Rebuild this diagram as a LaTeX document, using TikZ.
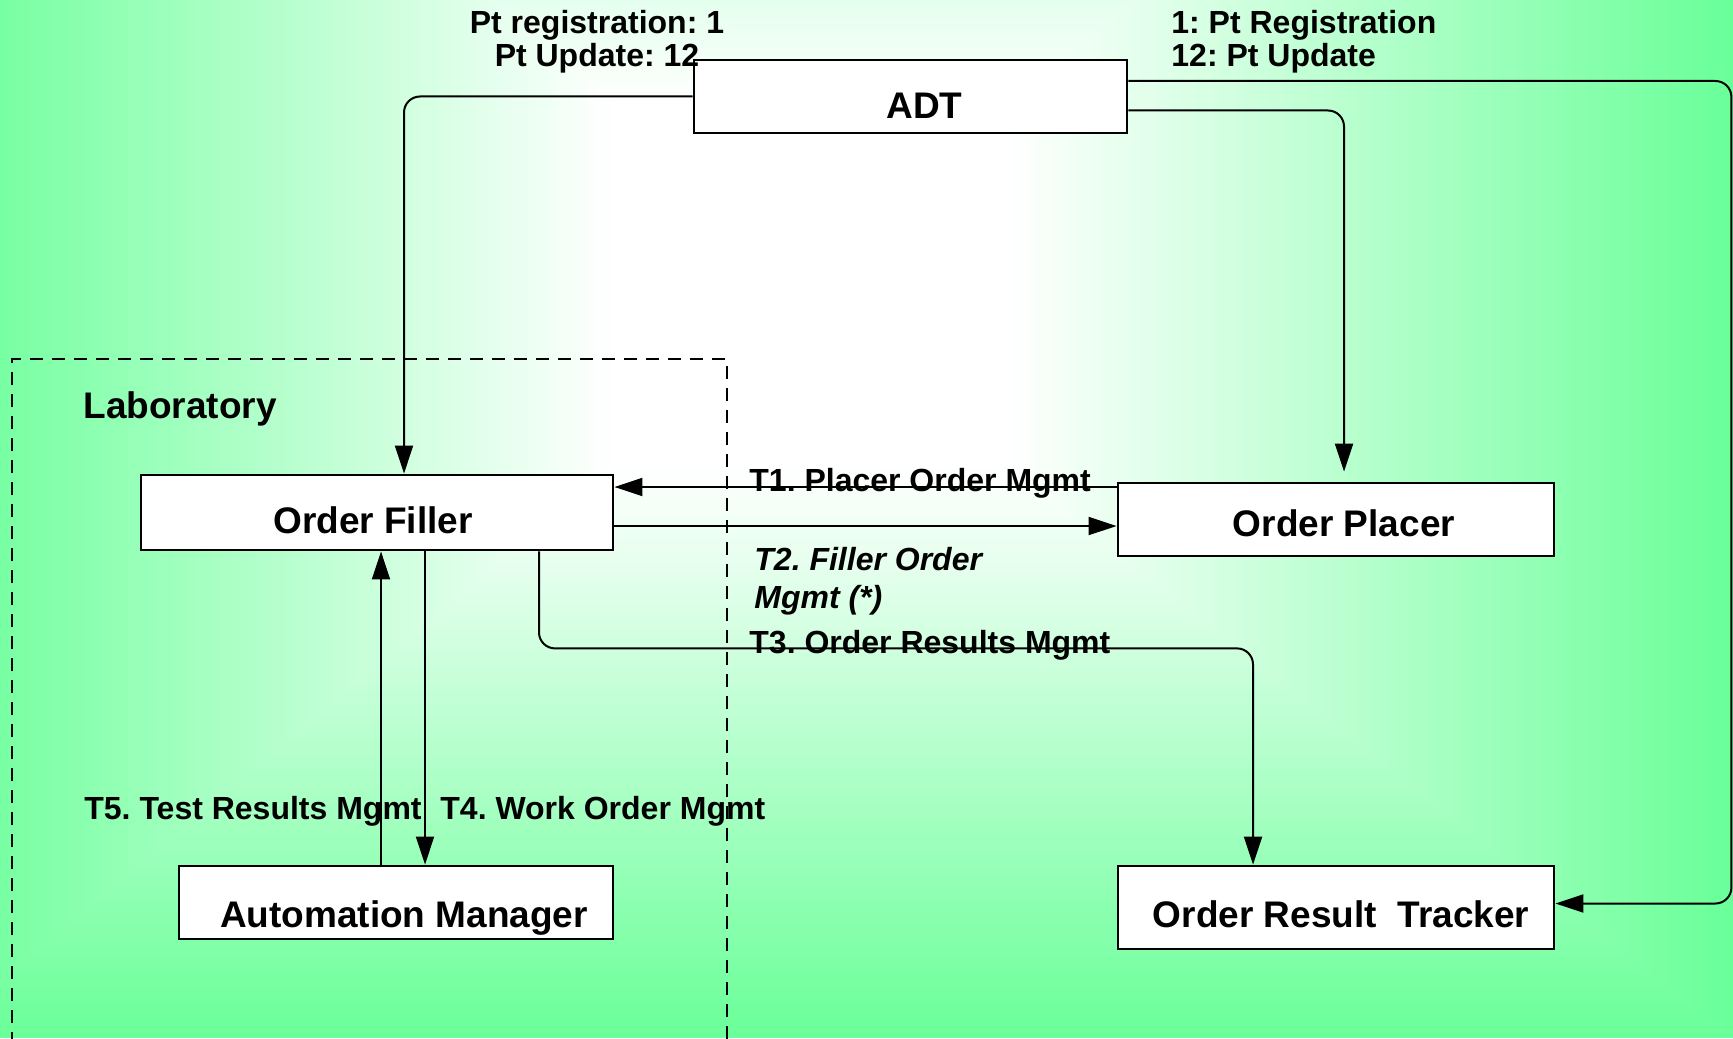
\documentclass[tikz,border=0pt]{standalone}
\usepackage{fontspec}
\setmainfont{Liberation Sans}
\usepackage{tikz}
\usepackage{xcolor}
\usetikzlibrary{calc,
	positioning,
	arrows.meta}

\definecolor{bggreen}{RGB}{106,255,153}

\begin{document}
\frenchspacing
\begin{tikzpicture}[x=0.5pt, y=-0.5pt,
	actor/.style={draw, fill=white, line width=1.4pt, inner sep=0pt,
		text height=21pt, text depth=0pt,
		font=\fontsize{18.5}{22}\selectfont\bfseries},
	nudge/.style={execute at begin node={\hspace*{#1}}},
	link/.style={->, line width=1pt, rounded corners=8pt},
	tag/.style={inner sep=0pt, font=\fontsize{16}{16.5}\selectfont\bfseries},
	>={Triangle[length=14pt, width=9pt]}]
	\useasboundingbox (0, 0) rectangle (1733, 1038);
	% background: nested rectangles from green to white
	\foreach \idx in {0,1,...,90} {
		\pgfmathsetmacro{\tval}{1-\idx/90}
		\pgfmathsetmacro{\mix}{100*\tval}
		\fill[bggreen!\mix!white] (610-678*\tval, 100-570*\tval) rectangle (1013+720*\tval, 470+568*\tval);
	}
	\draw[line width=1pt, dash pattern=on 6.5pt off 4.5pt] (12, 1045) -- (12, 359) -- (727, 359) -- (727, 1045);
	\node[tag, anchor=base west, font=\fontsize{18.5}{22}\selectfont\bfseries] (lab) at (83, 418) {Laboratory};

	\node[actor, nudge=14pt, text height=22.5pt, minimum width=216.5pt, minimum height=36.5pt] (adt) at (910.5, 96.5) {ADT};
	\node[actor, nudge=-4pt, minimum width=236pt, minimum height=37.5pt] (filler) at (377, 512.5) {Order Filler};
	\node[actor, nudge=8pt, text height=16.5pt, minimum width=218pt, minimum height=36.5pt] (placer) at (1336, 519.5) {Order Placer};
	\node[actor, nudge=8pt, text height=24.5pt, minimum width=217pt, minimum height=36.5pt] (am) at (396, 902.5) {Automation Manager};
	\node[actor, nudge=5pt, text height=19.5pt, minimum width=218pt, minimum height=41.5pt] (tracker) at (1336, 907.5) {Order Result\ \ Tracker};

	\draw[link] (adt.west) -| ([xshift=13.5pt]filler.north);
	\draw[link] ([yshift=7.75pt]adt.east) -| ([xshift=88pt, yshift=2pt]tracker.east) -- ([yshift=2pt]tracker.east);
	\draw[link, shorten >=5pt] ([yshift=-7pt]adt.east) -| ([xshift=4pt]placer.north);
	\draw[link] ([yshift=16.25pt]placer.west) -- ([yshift=16.25pt]placer.west -| filler.east);
	\draw[link] ([yshift=-6.75pt]filler.east) -- ([yshift=-6.75pt]filler.east -| placer.west);
	\draw[link] ([xshift=81pt]filler.south) -- ++(0, 97) -| ([xshift=-41.5pt]tracker.north);
	\draw[link] ([xshift=-7.5pt]am.north) -- ([xshift=-7.5pt]am.north |- filler.south);
	\draw[link] ([xshift=24pt]filler.south) -- ([xshift=24pt]filler.south |- am.north);

	\node[tag, align=center] (ptleft) at (597, 42) {Pt registration: 1\\Pt Update: 12};
	\node[tag, align=left, anchor=west] (ptright) at (1171, 42) {1: Pt Registration\\12: Pt Update};
	\node[tag, anchor=base west] (t1) at (749, 491) {T1. Placer Order Mgmt};
	\node[tag, align=left, anchor=west, font=\fontsize{16}{19}\selectfont\bfseries\itshape] (t2) at (754, 581) {T2. Filler Order\\Mgmt (*)};
	\node[tag, anchor=base west] (t3) at (749, 653) {T3. Order Results Mgmt};
	\node[tag, anchor=base west] (t5) at (84, 819) {T5. Test Results Mgmt};
	\node[tag, anchor=base west] (t4) at (440, 819) {T4. Work Order Mgmt};
\end{tikzpicture}
\end{document}
